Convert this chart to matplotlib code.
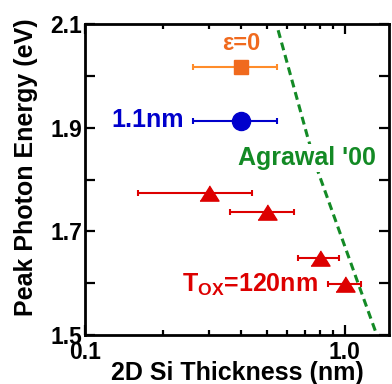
import numpy as np
import matplotlib
matplotlib.use('Agg')
import matplotlib.pyplot as plt
from matplotlib.ticker import FixedLocator, NullFormatter

matplotlib.rcParams.update({
    'font.family':      'Liberation Sans',
    'font.weight':      'bold',
    'axes.labelweight': 'bold',
    'mathtext.fontset': 'custom',
    'mathtext.rm':      'Liberation Sans:bold',
    'mathtext.bf':      'Liberation Sans:bold',
    'axes.linewidth':   2.0,
})

# strain-free reference (eps=0)
ref_x    = [0.40]
ref_y    = [2.018]
ref_xlo  = [0.26]
ref_xhi  = [0.55]

# 1.1 nm oxide sample
thin_x   = [0.40]
thin_y   = [1.913]
thin_xlo = [0.26]
thin_xhi = [0.55]

# Tox = 120 nm samples
tox_x    = [0.30, 0.50, 0.80, 1.00]
tox_y    = [1.773, 1.738, 1.648, 1.598]
tox_xlo  = [0.16, 0.36, 0.66, 0.86]
tox_xhi  = [0.44, 0.64, 0.95, 1.15]

# Agrawal '00 theory curve
agr_x    = [0.554, 0.722, 0.789, 1.125, 1.324]
agr_y    = [2.088, 1.879, 1.815, 1.600, 1.502]

C_REF   = '#f06a1e'
C_REFB  = '#ff8c2a'
C_THIN  = '#0000cc'
C_TOX   = '#dd0000'
C_AGR   = '#138a25'

def xerr(x, lo, hi):
    x = np.asarray(x); return [x - np.asarray(lo), np.asarray(hi) - x]

fig = plt.figure(figsize=(3.92, 3.84), dpi=100)
ax = fig.add_axes([85/392, 1 - 335/384, 304/392, 311/384])

ax.plot(agr_x, agr_y, color=C_AGR, lw=2.2, ls=(0, (2.6, 1.6)), zorder=2)

ax.errorbar(ref_x, ref_y, xerr=xerr(ref_x, ref_xlo, ref_xhi), fmt='none',
            ecolor=C_REFB, elinewidth=1.5, capsize=2, capthick=1.5, zorder=3)
ax.plot(ref_x, ref_y, 's', color=C_REF, ms=10, zorder=4)

ax.errorbar(thin_x, thin_y, xerr=xerr(thin_x, thin_xlo, thin_xhi), fmt='none',
            ecolor=C_THIN, elinewidth=1.5, capsize=2, capthick=1.5, zorder=3)
ax.plot(thin_x, thin_y, 'o', color=C_THIN, ms=13, zorder=4)

tri = [(-1, -0.8), (1, -0.8), (0, 0.8)]
ax.errorbar(tox_x, tox_y, xerr=xerr(tox_x, tox_xlo, tox_xhi), fmt='none',
            ecolor=C_TOX, elinewidth=1.5, capsize=2, capthick=1.5, zorder=3)
ax.plot(tox_x, tox_y, ls='none', marker=tri, color=C_TOX, ms=13.7, zorder=4)

ax.text(0.398, 2.050, '\u03b5=0', color=C_REF, fontsize=17, ha='center', va='baseline')
ax.text(0.24, 1.901, '1.1nm', color=C_THIN, fontsize=18, ha='right', va='baseline')
ax.text(0.389, 1.828, "Agrawal '00", color=C_AGR, fontsize=18, ha='left', va='baseline',
        bbox=dict(facecolor='white', edgecolor='none', pad=1.5), zorder=5)
ax.text(0.2354, 1.5835, r'T$_{\mathbf{OX}}$=120nm', color=C_TOX, fontsize=18,
        ha='left', va='baseline')

ax.set_xscale('log')
ax.set_xlim(0.1, 1.48)
ax.set_ylim(1.5, 2.1)
ax.xaxis.set_major_locator(FixedLocator([0.1, 1.0]))
ax.xaxis.set_minor_locator(FixedLocator([0.2, 0.3, 0.4, 0.5, 0.6, 0.7, 0.8, 0.9]))
ax.xaxis.set_minor_formatter(NullFormatter())
ax.set_xticklabels(['0.1', '1.0'])
ax.set_yticks([1.5, 1.6, 1.7, 1.8, 1.9, 2.0, 2.1])
ax.set_yticklabels(['1.5', '', '1.7', '', '1.9', '', '2.1'])

ax.tick_params(which='both', direction='in', top=True, right=True, labelsize=16.5, width=1.6)
ax.tick_params(axis='x', which='major', length=7, pad=4)
ax.tick_params(axis='x', which='minor', length=3.8)
ax.tick_params(axis='y', which='major', length=7.5, pad=2)

ax.set_xlabel('2D Si Thickness (nm)', fontsize=18)
ax.set_ylabel('Peak Photon Energy (eV)', fontsize=18)
ax.xaxis.set_label_coords(0.5, -0.085)
ax.yaxis.set_label_coords(-0.155, 0.539)

fig.savefig('out.png', dpi=100)
